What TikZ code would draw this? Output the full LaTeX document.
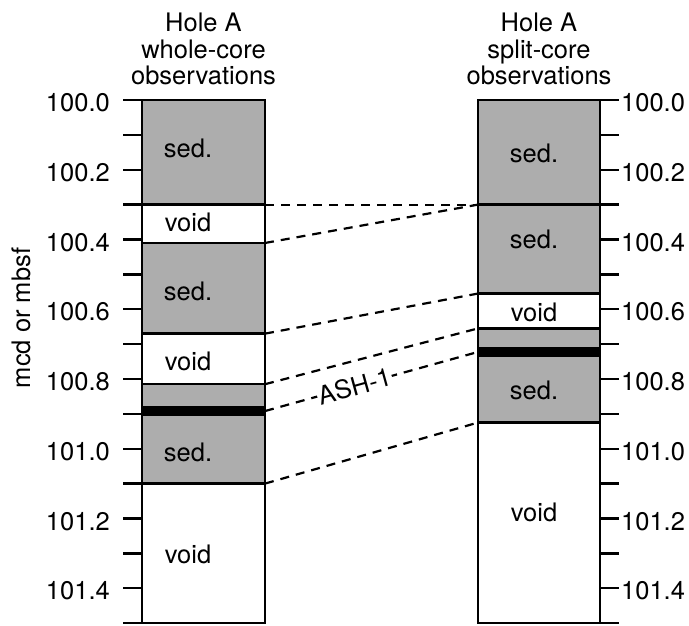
\documentclass[tikz,border=0pt]{standalone}
\usepackage{fontspec}
\setmainfont{TeX Gyre Heros}
\usepackage{tikz}

\definecolor{sedgray}{RGB}{173,173,173}
\tikzset{
  layer/.style={draw=black,line width=2.4pt},
  sedlayer/.style={layer,fill=sedgray},
  voidlayer/.style={layer,fill=white},
  ashband/.style={fill=black},
  lbl/.style={font=\fontsize{25.5}{26.5}\selectfont},
  depthlbl/.style={lbl,inner sep=0pt},
  tck/.style={line width=2.4pt},
  corr/.style={line width=2.2pt,dash pattern=on 9pt off 7pt}
}

\begin{document}
\begin{tikzpicture}[x=1pt,y=-348.7pt]
\useasboundingbox (0,-0.2868) rectangle (689,1.5056);

%naslovi
\node[lbl,align=center] (titleL) at (203.5,-0.146) {Hole A\\whole-core\\observations};
\node[lbl,align=center] (titleR) at (539,-0.146) {Hole A\\split-core\\observations};
\node[lbl,rotate=90] (yaxis) at (21,0.625) {mcd or mbsf};

%skala dubine
\foreach \d in {0,0.1,...,1.55}{
  \draw[tck] (123,\d) -- (142,\d);
  \draw[tck] (600,\d) -- (619,\d);
}
\foreach \d/\t in {0/100.0,0.2/100.2,0.4/100.4,0.6/100.6,0.8/100.8,1.0/101.0,1.2/101.2,1.4/101.4}{
  \node[depthlbl,anchor=east] (depL\t) at (110,\d+0.008) {\t};
  \node[depthlbl,anchor=west] (depR\t) at (621,\d+0.008) {\t};
}

%whole-core stupac
\draw[sedlayer] (142,0) rectangle (265,0.3);
\draw[voidlayer] (142,0.3) rectangle (265,0.41);
\draw[sedlayer] (142,0.41) rectangle (265,0.67);
\draw[voidlayer] (142,0.67) rectangle (265,0.815);
\draw[sedlayer] (142,0.815) rectangle (265,1.1);
\fill[ashband] (142,0.878) rectangle (265,0.906);
\draw[voidlayer] (142,1.1) rectangle (265,1.5);

\node[lbl] (sedL1) at (188,0.138) {sed.};
\node[lbl] (voidL1) at (188,0.35) {void};
\node[lbl] (sedL2) at (188,0.548) {sed.};
\node[lbl] (voidL2) at (188,0.751) {void};
\node[lbl] (sedL3) at (188,1.01) {sed.};
\node[lbl] (voidL3) at (188,1.302) {void};

%split-core stupac
\draw[sedlayer] (478,0) rectangle (600,0.3);
\draw[sedlayer] (478,0.3) rectangle (600,0.555);
\draw[voidlayer] (478,0.555) rectangle (600,0.655);
\draw[sedlayer] (478,0.655) rectangle (600,0.925);
\fill[ashband] (478,0.708) rectangle (600,0.737);
\draw[voidlayer] (478,0.925) rectangle (600,1.5);

\node[lbl] (sedR1) at (534,0.152) {sed.};
\node[lbl] (sedR2) at (534,0.401) {sed.};
\node[lbl] (voidR1) at (534,0.608) {void};
\node[lbl] (sedR3) at (534,0.832) {sed.};
\node[lbl] (voidR2) at (534,1.184) {void};

%korelacija
\coordinate (l1) at (265,0.3);
\coordinate (l2) at (265,0.41);
\coordinate (l3) at (265,0.67);
\coordinate (l4) at (265,0.815);
\coordinate (l5) at (265,0.892);
\coordinate (l6) at (265,1.1);
\coordinate (r1) at (478,0.3);
\coordinate (r2) at (478,0.3);
\coordinate (r3) at (478,0.555);
\coordinate (r4) at (478,0.655);
\coordinate (r5) at (478,0.7225);
\coordinate (r6) at (478,0.925);

\draw[corr] (l1) -- (r1);
\draw[corr] (l2) -- (r2);
\draw[corr] (l3) -- (r3);
\draw[corr] (l4) -- (r4);
\draw[corr] (l5) -- node[lbl,pos=0.42,sloped,fill=white,inner sep=1pt] (ash) {ASH-1} (r5);
\draw[corr] (l6) -- (r6);

\end{tikzpicture}
\end{document}
